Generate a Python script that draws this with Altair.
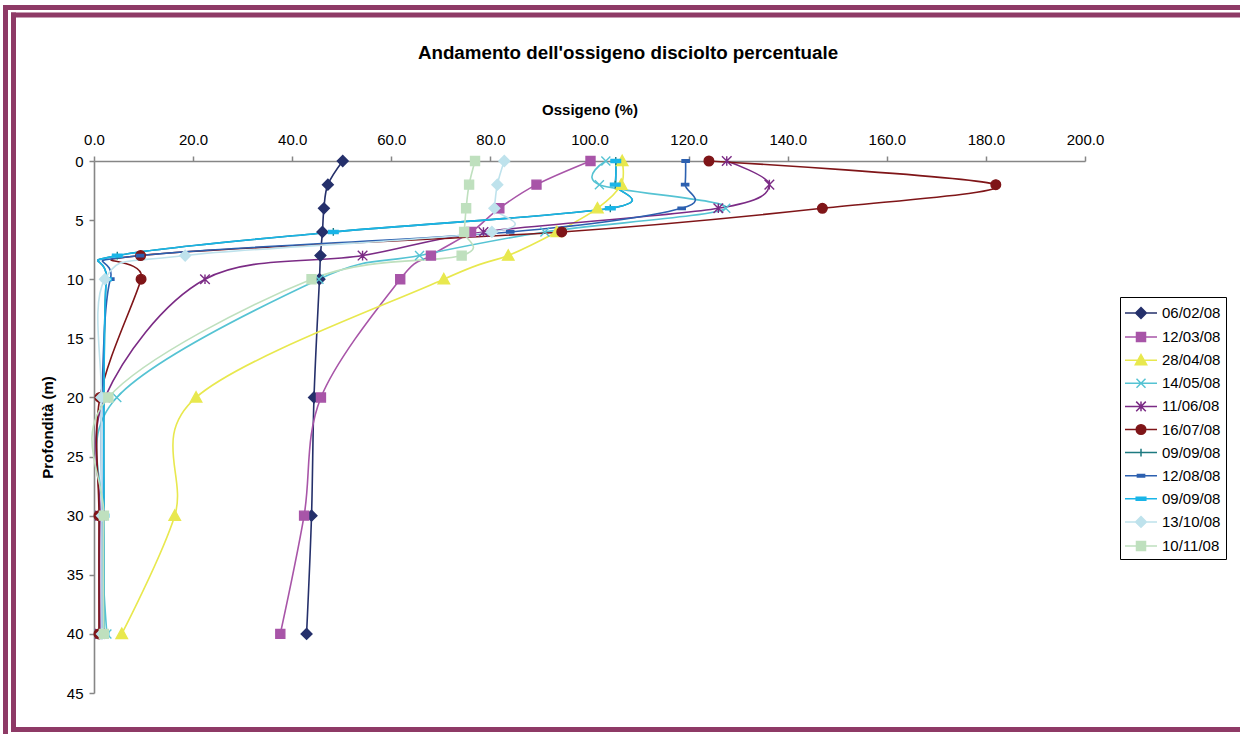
import altair as alt
import pandas as pd

# ---------------- data ----------------
depths = [0, 2, 4, 6, 8, 10, 20, 30, 40]

series_keys = ["06/02/08", "12/03/08", "28/04/08", "14/05/08", "11/06/08",
               "16/07/08", "09/09/08", "12/08/08", "09/09/08 b", "13/10/08", "10/11/08"]

oxy_0602 = [50.2, 47.2, 46.4, 46.1, 45.7, 45.5, 44.4, 43.9, 42.9]
oxy_1203 = [100.2, 89.3, 81.8, 76.1, 68.0, 61.8, 45.8, 42.4, 37.6]
oxy_2804 = [106.6, 106.4, 101.6, 93.4, 83.6, 70.6, 20.6, 16.3, 5.6]
oxy_1405 = [103.3, 102.0, 127.5, 91.0, 65.7, 45.4, 4.6, 1.7, 2.6]
oxy_1106 = [127.7, 136.3, 126.0, 78.6, 54.2, 22.4, 2.2, 1.2, 1.2]
oxy_1607 = [124.1, 182.0, 147.0, 94.4, 9.4, 9.5, 1.2, 1.0, 1.0]
oxy_0909a = [105.3, 105.2, 104.2, 48.3, 4.7, 2.5, 2.0, 2.0, 2.0]
oxy_1208 = [119.4, 119.3, 118.6, 84.0, 9.3, 3.3, 1.6, 1.6, 1.6]
oxy_0909b = [105.3, 105.2, 104.2, 48.3, 4.7, 2.5, 2.0, 2.0, 2.0]
oxy_1310 = [82.8, 81.4, 80.8, 80.3, 18.4, 2.2, 1.5, 1.6, 1.6]
oxy_1011 = [76.9, 75.7, 75.1, 74.7, 74.2, 43.9, 2.9, 2.0, 2.0]

all_values = [oxy_0602, oxy_1203, oxy_2804, oxy_1405, oxy_1106, oxy_1607,
              oxy_0909a, oxy_1208, oxy_0909b, oxy_1310, oxy_1011]

x_ticks = list(range(0, 201, 20))
y_ticks = list(range(0, 46, 5))

# ---------------- styles ----------------
colors = ["#25306B", "#A855A8", "#E8E84E", "#55C3D3", "#7B2B85", "#7F1518",
          "#1D7A80", "#2C60B0", "#19B5E8", "#BEE2EC", "#BFE0BE"]
FONT = "Liberation Sans"
FRAME = "#8E3A66"


def f(v):
    return f"{v:.3f}"


def diamond(k, c=0.0):
    return f"M{f(c)},{f(-k)}L{f(c+k)},0L{f(c)},{f(k)}L{f(c-k)},0Z"


def square(k, c=0.0):
    return f"M{f(c-k)},{f(-k)}H{f(c+k)}V{f(k)}H{f(c-k)}Z"


def triangle(k, c=0.0):
    return f"M{f(c)},{f(-k)}L{f(c+k)},{f(0.8*k)}H{f(c-k)}Z"


def xmark(k, c=0.0):
    return f"M{f(c-k)},{f(-k)}L{f(c+k)},{f(k)}M{f(c-k)},{f(k)}L{f(c+k)},{f(-k)}"


def star(k, c=0.0):
    return xmark(k, c) + f"M{f(c)},{f(-k)}V{f(k)}"


def circle(k, c=0.0):
    return (f"M{f(c+k)},0A{f(k)},{f(k)} 0 1,1 {f(c-k)},0"
            f"A{f(k)},{f(k)} 0 1,1 {f(c+k)},0Z")


def plus(k, c=0.0):
    return f"M{f(c-k)},0H{f(c+k)}M{f(c)},{f(-k)}V{f(k)}"


def dash(k, h, c=0.0):
    return f"M{f(c-k)},{f(-h)}H{f(c+k)}V{f(h)}H{f(c-k)}Z"


def markers(s, c=0.0):
    return [diamond(0.9 * s, c), square(0.75 * s, c), triangle(0.95 * s, c), xmark(0.75 * s, c),
            star(0.8 * s, c), circle(0.8 * s, c), plus(0.65 * s, c), dash(0.6 * s, 0.2 * s, c),
            dash(0.8 * s, 0.25 * s, c), diamond(0.9 * s, c), square(0.75 * s, c)]


chart_shapes = markers(1.0)
legend_shapes = ["M-1.1,0H2.1" + p for p in markers(0.6, 0.5)]

# ---------------- table ----------------
rows = []
for key, vals in zip(series_keys, all_values):
    for d, v in zip(depths, vals):
        rows.append({"series": key, "depth": d, "oxy": v})
df = pd.DataFrame(rows)

x_enc = alt.X("oxy:Q",
              scale=alt.Scale(domain=[0, 200], nice=False, zero=False),
              axis=alt.Axis(orient="top", values=x_ticks, format=".1f", labelFlush=False,
                            title="Ossigeno (%)", titleBaseline="alphabetic",
                            titleY=-46.6, labelPadding=9, tickSize=5))
y_enc = alt.Y("depth:Q",
              scale=alt.Scale(domain=[0, 45], reverse=True, nice=False, zero=False),
              axis=alt.Axis(values=y_ticks, format="d", title="Profondità (m)", labelFlush=False,
                            titleBaseline="middle", titleX=-47, labelPadding=6, tickSize=5))

base = alt.Chart(df)

lines = base.mark_line(interpolate="cardinal", strokeWidth=1.6).encode(
    x=x_enc, y=y_enc,
    color=alt.Color("series:N", scale=alt.Scale(domain=series_keys, range=colors), legend=None),
    order=alt.Order("depth:Q"),
)

points = base.mark_point(filled=True, opacity=1, size=144, strokeWidth=1.4).encode(
    x=x_enc, y=y_enc,
    fill=alt.Fill("series:N", scale=alt.Scale(domain=series_keys, range=colors), legend=None),
    stroke=alt.Stroke("series:N", scale=alt.Scale(domain=series_keys, range=colors), legend=None),
    shape=alt.Shape("series:N", scale=alt.Scale(domain=series_keys, range=chart_shapes), legend=None),
)

leg = alt.Legend(orient="none", legendX=1026, legendY=136, padding=5,
                 strokeColor="black", fillColor="white",
                 symbolSize=400, symbolStrokeWidth=1.5,
                 labelOffset=15, labelFont=FONT, labelFontSize=15, labelColor="black",
                 rowPadding=4.1, labelExpr="substring(datum.label, 0, 8)")

legend_layer = base.transform_filter("false").mark_point(filled=True, opacity=1, strokeWidth=1.5).encode(
    fill=alt.Fill("series:N", scale=alt.Scale(domain=series_keys, range=colors), legend=leg, title=None),
    stroke=alt.Stroke("series:N", scale=alt.Scale(domain=series_keys, range=colors), legend=leg, title=None),
    shape=alt.Shape("series:N", scale=alt.Scale(domain=series_keys, range=legend_shapes), legend=leg, title=None),
)

dummy = alt.Chart(alt.Data(values=[{"k": 0}]))


def hrule(y, x1, x2):
    return dummy.mark_rule(color=FRAME, strokeWidth=5).encode(
        x=alt.value(x1), x2=alt.value(x2), y=alt.value(y))


def vrule(x, y1, y2):
    return dummy.mark_rule(color=FRAME, strokeWidth=5).encode(
        x=alt.value(x), y=alt.value(y1), y2=alt.value(y2))


frame = [
    hrule(-153.5, -91, 1146),
    vrule(-88.5, -156, 573),
    hrule(-146, -83, 1146),
    vrule(-80.5, -148.5, 571),
    hrule(568.5, -83, 1146),
]

title = dummy.mark_text(text="Andamento dell'ossigeno disciolto percentuale",
                        font=FONT, fontSize=18.75, fontWeight="bold", color="black",
                        align="center", baseline="middle").encode(
    x=alt.value(534), y=alt.value(-108))

chart = alt.layer(*frame, title, lines, points, legend_layer).resolve_scale(
    color="independent", fill="independent", stroke="independent", shape="independent"
).properties(
    width=991, height=532,
    autosize=alt.AutoSizeParams(type="none"),
    padding={"left": 94, "top": 161, "right": 155, "bottom": 41},
    background="white",
).configure_view(stroke="transparent").configure_axis(
    grid=False, domainColor="#868686", domainWidth=1.6, tickColor="#868686", tickWidth=1.5,
    labelFont=FONT, labelFontSize=15, labelColor="black",
    titleFont=FONT, titleFontSize=15, titleFontWeight="bold", titleColor="black",
)

chart.save("out.html", embed_options={"renderer": "svg", "actions": False})
